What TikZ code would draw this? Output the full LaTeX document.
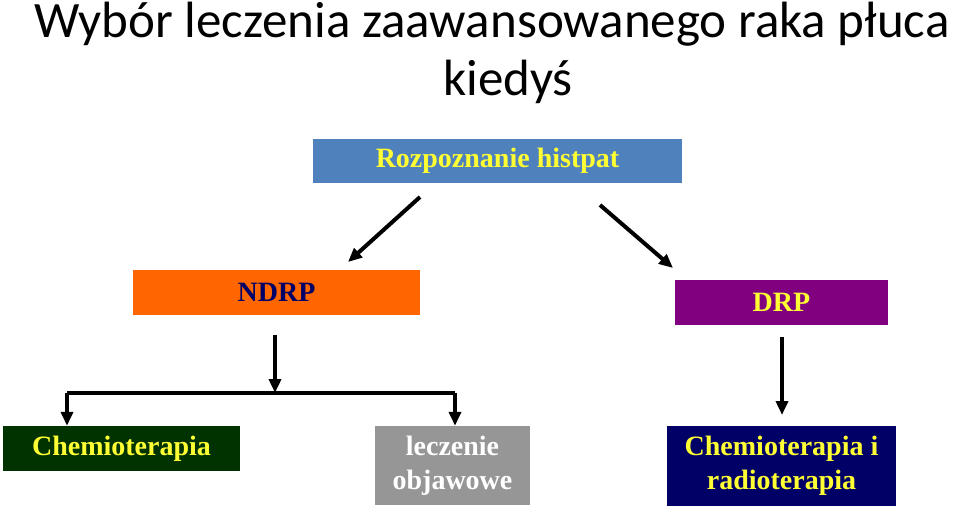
\documentclass[tikz,border=0pt]{standalone}
\usepackage{fontspec}
\setmainfont{Liberation Serif}
\newfontfamily\titlefont{Carlito}
\usetikzlibrary{arrows.meta}
\definecolor{hpblue}{RGB}{79,129,189}
\definecolor{hporange}{RGB}{255,102,0}
\definecolor{hppurple}{RGB}{128,0,128}
\definecolor{hpgreen}{RGB}{0,51,0}
\definecolor{hpgray}{RGB}{150,150,150}
\definecolor{hpnavy}{RGB}{0,0,102}
\definecolor{hpyellow}{RGB}{255,255,51}
\tikzset{
    box/.style={
        rectangle,
        inner sep=0pt,
        font=\fontsize{28}{34}\selectfont\bfseries,
        align=center
    },
    arrow/.style={
        -{Triangle[length=14pt,width=12pt]},
        line width=4pt
    }
}
\begin{document}
\begin{tikzpicture}[x=1pt,y=-1pt]
    \useasboundingbox (0,0) rectangle (960,512);

    \node[font=\titlefont\fontsize{51}{56}\selectfont] (title) at (492,24) {Wybór leczenia zaawansowanego raka płuca};
    \node[font=\titlefont\fontsize{51}{56}\selectfont] (title2) at (508,82) {kiedyś};

    \node[box, fill=hpblue, text=hpyellow, minimum width=369pt, minimum height=44pt] (histpat) at (497.5,161) {Rozpoznanie histpat};
    \node[box, fill=hporange, text=hpnavy, minimum width=287pt, minimum height=45pt] (ndrp) at (276.5,292.5) {NDRP};
    \node[box, fill=hppurple, text=hpyellow, minimum width=213pt, minimum height=45pt] (drp) at (781.5,302.5) {DRP};
    \node[box, fill=hpgreen, text=hpyellow, minimum width=237pt, minimum height=45pt] (chemio) at (121.5,448.5) {Chemioterapia};
    \node[box, fill=hpgray, text=white, minimum width=155pt, minimum height=79pt] (objaw) at (452.5,465.5) {leczenie\\objawowe};
    \node[box, fill=hpnavy, text=hpyellow, minimum width=229pt, minimum height=80pt] (radio) at (781.5,466) {Chemioterapia i\\radioterapia};

    \coordinate (leftstart) at (420,197);
    \coordinate (rightstart) at (600,205);
    \coordinate (ndrpdown) at (275,335);
    \coordinate (drpdown) at (782,337);
    \coordinate (fork) at (275,393);
    \coordinate (forkleft) at (67,393);
    \coordinate (forkright) at (455,393);

    \draw[arrow] (leftstart) -- (348,262);
    \draw[arrow] (rightstart) -- (673,268);
    \draw[arrow] (ndrpdown) -- (fork);
    \draw[line width=4pt] (forkleft) -- (forkright);
    \draw[arrow] (forkleft) -- (chemio.north -| forkleft);
    \draw[arrow] (forkright) -- (objaw.north -| forkright);
    \draw[arrow] (drpdown) -- (782,415);

\end{tikzpicture}
\end{document}
